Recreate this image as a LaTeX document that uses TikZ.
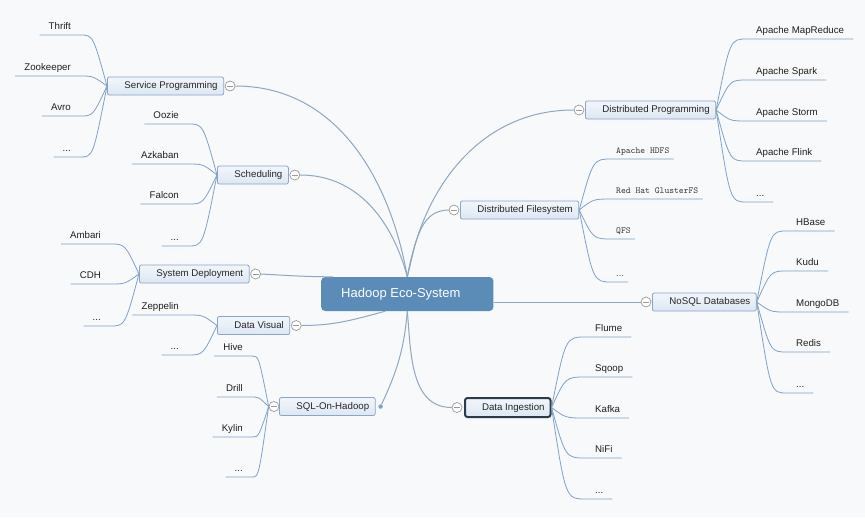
\documentclass[tikz,border=0pt]{standalone}
\usepackage{fontspec}
\setmainfont{Liberation Sans}

\definecolor{bgcol}{HTML}{F7F9FB}
\definecolor{twigcol}{HTML}{7FA2C6}
\definecolor{boughcol}{HTML}{8FA7BF}
\definecolor{boxtop}{HTML}{F1F6FB}
\definecolor{boxbot}{HTML}{DDE7F2}
\definecolor{boxline}{HTML}{8AA6C4}
\definecolor{hubfill}{HTML}{5B8CB7}
\definecolor{selline}{HTML}{2C3B4A}
\definecolor{foldline}{HTML}{9A9A9A}

\newcommand\moredots{\textrm{...}}

\tikzset{
  topic/.style={draw=boxline, top color=boxtop, bottom color=boxbot,
    rounded corners=2pt, line width=0.8pt, anchor=west,
    minimum height=18pt, inner xsep=0pt, inner ysep=0pt,
    execute at begin node={\hspace*{17pt}}, execute at end node={\hspace*{6pt}},
    font=\fontsize{9.7}{11}\selectfont, text=black!85},
  selected/.style={draw=selline, line width=2pt, rounded corners=2.5pt, minimum height=19pt},
  hub/.style={fill=hubfill, rounded corners=4pt, anchor=west,
    minimum height=34pt, inner xsep=0pt, inner ysep=0pt,
    execute at begin node={\hspace*{20pt}}, execute at end node={\hspace*{33pt}},
    font=\fontsize{13}{15}\selectfont, text=white},
  fold/.style={circle, draw=foldline, fill=white, line width=0.7pt,
    minimum size=10pt, inner sep=0pt,
    path picture={\draw[foldline, line width=0.7pt]
      ([xshift=-3pt]path picture bounding box.center) --
      ([xshift=3pt]path picture bounding box.center);}},
  dot/.style={circle, fill=twigcol, minimum size=4.5pt, inner sep=0pt},
  leaf/.style={inner xsep=9pt, inner ysep=3pt, text height=7pt, text depth=2.5pt,
    font=\fontsize{9.7}{11}\selectfont, text=black!88},
  lleaf/.style={leaf, anchor=south east},
  rleaf/.style={leaf, anchor=south west},
  monoleaf/.style={rleaf, inner xsep=4pt, font=\ttfamily\fontsize{9.2}{11}\selectfont, text=black!75},
  twig/.style={draw=twigcol, line width=0.8pt},
  bough/.style={draw=boughcol, line width=1pt}
}

\begin{document}
\begin{tikzpicture}[x=1pt,y=1pt]
\fill[bgcol] (0,0) rectangle (865,-517);
\useasboundingbox (0,0) rectangle (865,-517);

\node[hub] (hub) at (321,-294) {Hadoop Eco-System};

\node[topic] (sp) at (107,-86) {Service Programming};
\node[topic] (sch) at (217,-175) {Scheduling};
\node[topic] (sd) at (139,-274) {System Deployment};
\node[topic] (dv) at (217,-325.5) {Data Visual};
\node[topic] (sql) at (279,-406.5) {SQL-On-Hadoop};
\node[topic] (dp) at (585,-110) {Distributed Programming};
\node[topic] (df) at (460,-210) {Distributed Filesystem};
\node[topic] (nosql) at (652,-302) {NoSQL Databases};
\node[topic,selected] (di) at (464,-407.5) {Data Ingestion};

\node[fold] (spf) at ([xshift=6pt]sp.east) {};
\node[fold] (schf) at ([xshift=6pt]sch.east) {};
\node[fold] (sdf) at ([xshift=6pt]sd.east) {};
\node[fold] (dvf) at ([xshift=6pt]dv.east) {};
\node[fold] (sqlf) at ([xshift=-5pt]sql.west) {};
\node[dot] (sqld) at ([xshift=5pt]sql.east) {};
\node[fold] (dpf) at ([xshift=-6pt]dp.west) {};
\node[fold] (dff) at ([xshift=-6pt]df.west) {};
\node[fold] (nosqlf) at ([xshift=-6pt]nosql.west) {};
\node[fold] (dif) at ([xshift=-7pt]di.west) {};

\draw[bough] (spf.east) to[out=0,in=100] (hub.north);
\draw[bough] (schf.east) to[out=0,in=105] (hub.north);
\draw[bough] (sdf.east) to[out=-3,in=180] ([xshift=12pt]hub.north west);
\draw[bough] (dvf.east) to[out=0,in=195] ([xshift=-22pt]hub.south);
\draw[bough] (hub.south) to[out=-95,in=65] (sqld);
\draw[bough] (hub.north) to[out=80,in=180] (dpf.west);
\draw[bough] (hub.north) to[out=75,in=180] (dff.west);
\draw[bough] (hub.east |- nosqlf.west) -- (nosqlf.west);
\draw[bough] (hub.south) to[out=-85,in=180] (dif.west);

\coordinate (spk) at ([xshift=-14pt]sp.west);
\coordinate (schk) at ([xshift=-14pt]sch.west);
\coordinate (sdk) at ([xshift=-14pt]sd.west);
\coordinate (dvk) at ([xshift=-14pt]dv.west);
\coordinate (sqlk) at ([xshift=-10pt]sqlf.west);
\coordinate (dpk) at ([xshift=14pt]dp.east);
\coordinate (dfk) at ([xshift=14pt]df.east);
\coordinate (nosqlk) at ([xshift=14pt]nosql.east);
\coordinate (dik) at ([xshift=14pt]di.east);

\foreach \t/\y [count=\i] in {Thrift/35, Zookeeper/76, Avro/116, \moredots/157}{
  \node[lleaf] (sp\i) at (80,-\y) {\t};
  \draw[twig] (sp\i.south west) -- (sp\i.south east) .. controls (spk |- sp\i.south) .. (sp.west);
}
\foreach \t/\y [count=\i] in {Oozie/124, Azkaban/164, Falcon/204, \moredots/246}{
  \node[lleaf] (sch\i) at (188,-\y) {\t};
  \draw[twig] (sch\i.south west) -- (sch\i.south east) .. controls (schk |- sch\i.south) .. (sch.west);
}
\foreach \t/\y [count=\i] in {Ambari/244, CDH/284, \moredots/326}{
  \node[lleaf] (sd\i) at (110,-\y) {\t};
  \draw[twig] (sd\i.south west) -- (sd\i.south east) .. controls (sdk |- sd\i.south) .. (sd.west);
}
\foreach \t/\y [count=\i] in {Zeppelin/315, \moredots/355}{
  \node[lleaf] (dv\i) at (188,-\y) {\t};
  \draw[twig] (dv\i.south west) -- (dv\i.south east) .. controls (dvk |- dv\i.south) .. (dv.west);
}
\foreach \t/\y [count=\i] in {Hive/356, Drill/397, Kylin/437, \moredots/477}{
  \node[lleaf] (sql\i) at (252,-\y) {\t};
  \draw[twig] (sql\i.south west) -- (sql\i.south east) .. controls (sqlk |- sql\i.south) .. (sqlf.west);
}
\foreach \t/\y [count=\i] in {Apache MapReduce/39, Apache Spark/80, Apache Storm/121, Apache Flink/161, \moredots/202}{
  \node[rleaf] (dp\i) at (747,-\y) {\t};
  \draw[twig] (dp.east) .. controls (dpk |- dp\i.south) .. (dp\i.south west) -- (dp\i.south east);
}
\foreach \t/\y [count=\i] in {Apache HDFS/159, Red Hat GlusterFS/199, QFS/239, \moredots/282}{
  \node[monoleaf] (df\i) at (612,-\y) {\t};
  \draw[twig] (df.east) .. controls (dfk |- df\i.south) .. (df\i.south west) -- (df\i.south east);
}
\foreach \t/\y [count=\i] in {HBase/231, Kudu/271, MongoDB/312, Redis/352, \moredots/393}{
  \node[rleaf] (nosql\i) at (787,-\y) {\t};
  \draw[twig] (nosql.east) .. controls (nosqlk |- nosql\i.south) .. (nosql\i.south west) -- (nosql\i.south east);
}
\foreach \t/\y [count=\i] in {Flume/337, Sqoop/377, Kafka/418, NiFi/458, \moredots/499}{
  \node[rleaf] (di\i) at (586,-\y) {\t};
  \draw[twig] (di.east) .. controls (dik |- di\i.south) .. (di\i.south west) -- (di\i.south east);
}

\end{tikzpicture}
\end{document}
